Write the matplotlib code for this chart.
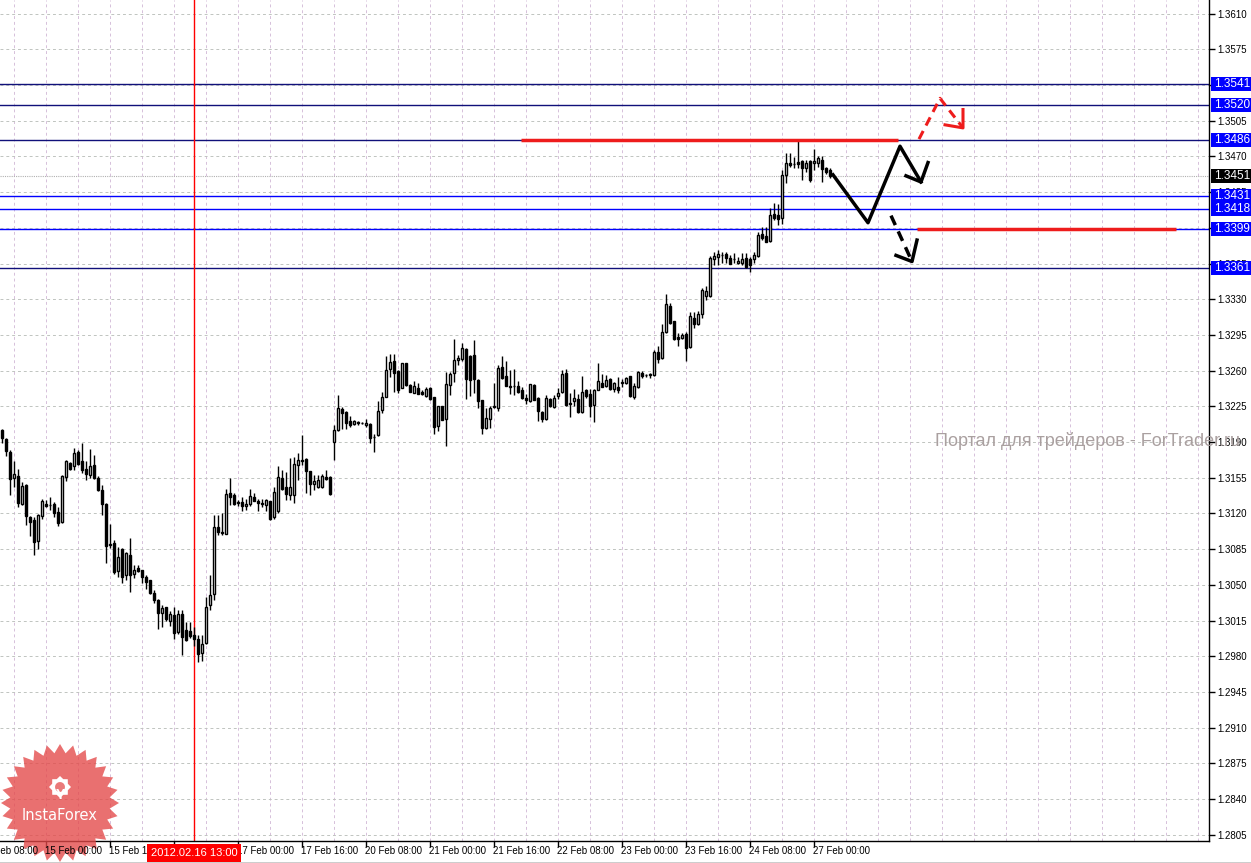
import numpy as np
import matplotlib.pyplot as plt
from matplotlib.patches import Polygon, Rectangle
from matplotlib import transforms

plt.rcParams['font.family'] = ['Liberation Sans', 'DejaVu Sans']

# H1 bars, EURUSD, starting 14 Feb 13:00
bar_open = [1.3202, 1.3193, 1.3180, 1.3155, 1.3157, 1.3129, 1.3148, 1.3116, 1.3114, 1.3093,
            1.3117, 1.3129, 1.3128, 1.3129, 1.3121, 1.3112, 1.3156, 1.3169, 1.3166, 1.3180,
            1.3171, 1.3164, 1.3158, 1.3167, 1.3155, 1.3143, 1.3129, 1.3089, 1.3091, 1.3064,
            1.3085, 1.3060, 1.3079, 1.3061, 1.3066, 1.3065, 1.3058, 1.3055, 1.3042, 1.3035,
            1.3022, 1.3028, 1.3015, 1.3020, 1.3004, 1.3021, 1.3006, 1.3005, 1.3001, 1.2997,
            1.2983, 1.2993, 1.3030, 1.3041, 1.3107, 1.3102, 1.3100, 1.3140, 1.3138, 1.3130,
            1.3131, 1.3127, 1.3129, 1.3136, 1.3132, 1.3130, 1.3128, 1.3132, 1.3116, 1.3122,
            1.3155, 1.3146, 1.3138, 1.3138, 1.3167, 1.3172, 1.3173, 1.3162, 1.3149, 1.3146,
            1.3146, 1.3156, 1.3156, 1.3190, 1.3202, 1.3222, 1.3219, 1.3211, 1.3208, 1.3210,
            1.3209, 1.3207, 1.3208, 1.3195, 1.3197, 1.3221, 1.3234, 1.3262, 1.3269, 1.3260,
            1.3243, 1.3267, 1.3246, 1.3238, 1.3243, 1.3239, 1.3235, 1.3243, 1.3234, 1.3206,
            1.3225, 1.3213, 1.3246, 1.3258, 1.3270, 1.3271, 1.3281, 1.3274, 1.3275, 1.3251,
            1.3231, 1.3204, 1.3213, 1.3224, 1.3223, 1.3264, 1.3255, 1.3245, 1.3245, 1.3245,
            1.3241, 1.3233, 1.3230, 1.3246, 1.3233, 1.3219, 1.3213, 1.3232, 1.3224, 1.3235,
            1.3239, 1.3258, 1.3228, 1.3230, 1.3232, 1.3219, 1.3241, 1.3237, 1.3226, 1.3241,
            1.3248, 1.3245, 1.3252, 1.3242, 1.3244, 1.3248, 1.3248, 1.3255, 1.3234, 1.3244,
            1.3258, 1.3256, 1.3256, 1.3256, 1.3278, 1.3272, 1.3298, 1.3323, 1.3309, 1.3293,
            1.3292, 1.3296, 1.3283, 1.3312, 1.3306, 1.3316, 1.3333, 1.3333, 1.3369, 1.3371,
            1.3373, 1.3374, 1.3370, 1.3369, 1.3366, 1.3366, 1.3370, 1.3369, 1.3369, 1.3372,
            1.3394, 1.3392, 1.3387, 1.3414, 1.3413, 1.3410, 1.3452, 1.3464, 1.3463, 1.3465,
            1.3466, 1.3459, 1.3466, 1.3464, 1.3464, 1.3467, 1.3459, 1.3457]
bar_high = [1.3203, 1.3194, 1.3182, 1.3171, 1.3164, 1.3151, 1.3149, 1.3117, 1.3116, 1.3119,
            1.3134, 1.3133, 1.3136, 1.3131, 1.3126, 1.3158, 1.3172, 1.3170, 1.3184, 1.3182,
            1.3189, 1.3171, 1.3183, 1.3177, 1.3157, 1.3148, 1.3130, 1.3110, 1.3094, 1.3087,
            1.3086, 1.3082, 1.3096, 1.3069, 1.3069, 1.3065, 1.3060, 1.3055, 1.3045, 1.3036,
            1.3030, 1.3028, 1.3024, 1.3028, 1.3025, 1.3025, 1.3014, 1.3014, 1.3009, 1.3001,
            1.3001, 1.3038, 1.3060, 1.3118, 1.3118, 1.3120, 1.3144, 1.3155, 1.3140, 1.3133,
            1.3136, 1.3134, 1.3144, 1.3140, 1.3134, 1.3134, 1.3134, 1.3132, 1.3146, 1.3166,
            1.3163, 1.3161, 1.3174, 1.3175, 1.3179, 1.3197, 1.3174, 1.3162, 1.3158, 1.3158,
            1.3159, 1.3163, 1.3157, 1.3207, 1.3236, 1.3224, 1.3220, 1.3216, 1.3212, 1.3211,
            1.3210, 1.3213, 1.3209, 1.3198, 1.3230, 1.3239, 1.3274, 1.3276, 1.3276, 1.3261,
            1.3267, 1.3267, 1.3247, 1.3250, 1.3248, 1.3241, 1.3244, 1.3244, 1.3234, 1.3225,
            1.3225, 1.3259, 1.3259, 1.3291, 1.3275, 1.3287, 1.3282, 1.3275, 1.3290, 1.3252,
            1.3231, 1.3223, 1.3225, 1.3248, 1.3266, 1.3274, 1.3269, 1.3261, 1.3262, 1.3250,
            1.3244, 1.3237, 1.3247, 1.3247, 1.3234, 1.3220, 1.3236, 1.3233, 1.3236, 1.3243,
            1.3261, 1.3262, 1.3238, 1.3242, 1.3237, 1.3255, 1.3242, 1.3242, 1.3242, 1.3267,
            1.3257, 1.3256, 1.3253, 1.3249, 1.3254, 1.3252, 1.3254, 1.3255, 1.3248, 1.3260,
            1.3260, 1.3257, 1.3258, 1.3280, 1.3284, 1.3306, 1.3335, 1.3326, 1.3309, 1.3297,
            1.3297, 1.3298, 1.3317, 1.3317, 1.3318, 1.3341, 1.3343, 1.3372, 1.3376, 1.3378,
            1.3376, 1.3376, 1.3373, 1.3375, 1.3371, 1.3375, 1.3375, 1.3371, 1.3376, 1.3396,
            1.3401, 1.3401, 1.3419, 1.3424, 1.3423, 1.3457, 1.3473, 1.3473, 1.3469, 1.3486,
            1.3467, 1.3467, 1.3467, 1.3477, 1.3470, 1.3470, 1.3460, 1.3459]
bar_low = [1.3189, 1.3176, 1.3138, 1.3146, 1.3126, 1.3128, 1.3109, 1.3098, 1.3079, 1.3085,
           1.3115, 1.3126, 1.3123, 1.3116, 1.3108, 1.3111, 1.3152, 1.3163, 1.3163, 1.3167,
           1.3160, 1.3153, 1.3155, 1.3154, 1.3142, 1.3118, 1.3071, 1.3086, 1.3061, 1.3058,
           1.3052, 1.3055, 1.3043, 1.3057, 1.3063, 1.3052, 1.3046, 1.3041, 1.3032, 1.3007,
           1.3009, 1.3015, 1.3010, 1.2997, 1.3002, 1.2981, 1.2995, 1.2998, 1.2990, 1.2974,
           1.2975, 1.2992, 1.3025, 1.3035, 1.3099, 1.3099, 1.3100, 1.3128, 1.3128, 1.3127,
           1.3122, 1.3123, 1.3127, 1.3132, 1.3122, 1.3126, 1.3122, 1.3114, 1.3115, 1.3120,
           1.3143, 1.3133, 1.3133, 1.3130, 1.3153, 1.3167, 1.3140, 1.3138, 1.3143, 1.3145,
           1.3145, 1.3153, 1.3138, 1.3172, 1.3201, 1.3203, 1.3203, 1.3205, 1.3207, 1.3207,
           1.3208, 1.3205, 1.3189, 1.3180, 1.3196, 1.3218, 1.3234, 1.3254, 1.3239, 1.3238,
           1.3243, 1.3245, 1.3239, 1.3238, 1.3237, 1.3236, 1.3234, 1.3231, 1.3198, 1.3201,
           1.3212, 1.3186, 1.3236, 1.3249, 1.3266, 1.3269, 1.3232, 1.3235, 1.3238, 1.3223,
           1.3198, 1.3203, 1.3204, 1.3223, 1.3220, 1.3252, 1.3245, 1.3237, 1.3236, 1.3238,
           1.3232, 1.3227, 1.3229, 1.3231, 1.3211, 1.3210, 1.3212, 1.3224, 1.3223, 1.3232,
           1.3238, 1.3225, 1.3215, 1.3225, 1.3218, 1.3218, 1.3233, 1.3215, 1.3210, 1.3241,
           1.3244, 1.3244, 1.3241, 1.3239, 1.3238, 1.3244, 1.3247, 1.3234, 1.3232, 1.3243,
           1.3253, 1.3254, 1.3253, 1.3255, 1.3267, 1.3271, 1.3297, 1.3306, 1.3290, 1.3284,
           1.3291, 1.3269, 1.3282, 1.3302, 1.3305, 1.3312, 1.3329, 1.3332, 1.3364, 1.3364,
           1.3366, 1.3366, 1.3365, 1.3366, 1.3365, 1.3364, 1.3361, 1.3357, 1.3366, 1.3371,
           1.3388, 1.3386, 1.3386, 1.3408, 1.3403, 1.3404, 1.3444, 1.3460, 1.3459, 1.3459,
           1.3447, 1.3455, 1.3445, 1.3457, 1.3460, 1.3445, 1.3453, 1.3449]
bar_close = [1.3194, 1.3181, 1.3154, 1.3159, 1.3130, 1.3147, 1.3117, 1.3112, 1.3092, 1.3118,
             1.3132, 1.3127, 1.3128, 1.3120, 1.3111, 1.3157, 1.3171, 1.3164, 1.3179, 1.3168,
             1.3163, 1.3159, 1.3166, 1.3155, 1.3143, 1.3129, 1.3088, 1.3090, 1.3063, 1.3077,
             1.3058, 1.3081, 1.3060, 1.3065, 1.3064, 1.3058, 1.3053, 1.3042, 1.3035, 1.3022,
             1.3027, 1.3016, 1.3021, 1.3003, 1.3021, 1.2999, 1.2996, 1.3000, 1.2997, 1.2982,
             1.2992, 1.3028, 1.3040, 1.3107, 1.3102, 1.3101, 1.3139, 1.3136, 1.3129, 1.3131,
             1.3127, 1.3129, 1.3137, 1.3132, 1.3130, 1.3129, 1.3133, 1.3115, 1.3141, 1.3156,
             1.3144, 1.3139, 1.3146, 1.3168, 1.3172, 1.3171, 1.3162, 1.3149, 1.3152, 1.3153,
             1.3157, 1.3154, 1.3139, 1.3202, 1.3223, 1.3218, 1.3209, 1.3207, 1.3211, 1.3209,
             1.3209, 1.3209, 1.3194, 1.3195, 1.3220, 1.3234, 1.3261, 1.3268, 1.3258, 1.3241,
             1.3267, 1.3246, 1.3239, 1.3245, 1.3237, 1.3237, 1.3242, 1.3232, 1.3205, 1.3225,
             1.3212, 1.3247, 1.3257, 1.3270, 1.3272, 1.3282, 1.3252, 1.3251, 1.3252, 1.3230,
             1.3204, 1.3214, 1.3223, 1.3225, 1.3263, 1.3253, 1.3245, 1.3244, 1.3245, 1.3239,
             1.3233, 1.3231, 1.3247, 1.3231, 1.3220, 1.3213, 1.3233, 1.3225, 1.3233, 1.3238,
             1.3257, 1.3226, 1.3227, 1.3233, 1.3219, 1.3239, 1.3235, 1.3225, 1.3241, 1.3250,
             1.3244, 1.3251, 1.3242, 1.3248, 1.3241, 1.3249, 1.3253, 1.3235, 1.3245, 1.3259,
             1.3255, 1.3256, 1.3257, 1.3278, 1.3271, 1.3298, 1.3325, 1.3307, 1.3291, 1.3291,
             1.3295, 1.3282, 1.3314, 1.3306, 1.3316, 1.3339, 1.3338, 1.3370, 1.3372, 1.3374,
             1.3373, 1.3370, 1.3365, 1.3369, 1.3367, 1.3369, 1.3362, 1.3364, 1.3373, 1.3393,
             1.3390, 1.3386, 1.3413, 1.3410, 1.3409, 1.3452, 1.3464, 1.3462, 1.3463, 1.3463,
             1.3459, 1.3464, 1.3447, 1.3466, 1.3468, 1.3458, 1.3455, 1.3451]

price_ticks = [1.2805, 1.2840, 1.2875, 1.2910, 1.2945, 1.2980, 1.3015, 1.3050, 1.3085, 1.3120,
               1.3155, 1.3190, 1.3225, 1.3260, 1.3295, 1.3330, 1.3365, 1.3400, 1.3435, 1.3470,
               1.3505, 1.3540, 1.3575, 1.3610]
time_labels = ['14 Feb 08:00', '15 Feb 00:00', '15 Feb 16:00', '16 Feb 08:00', '17 Feb 00:00',
               '17 Feb 16:00', '20 Feb 08:00', '21 Feb 00:00', '21 Feb 16:00', '22 Feb 08:00',
               '23 Feb 00:00', '23 Feb 16:00', '24 Feb 08:00', '27 Feb 00:00']
time_label_bars = [-5, 11, 27, 43, 59, 75, 91, 107, 123, 139, 155, 171, 187, 203]

levels_dark = [1.3541, 1.3520, 1.3486, 1.3361]
levels_blue = [1.3431, 1.3418, 1.3399]
last_price = 1.3451
marker_bar = 48
marker_label = '2012.02.16 13:00'

# hand-drawn forecast
resist_x, resist_y = [129.75, 224.0], [1.3486, 1.3486]
support_x, support_y = [228.75, 293.5], [1.3399, 1.3399]
zig_x, zig_y = [207.75, 216.5, 224.5, 229.75], [1.3452, 1.3405, 1.3480, 1.3445]
zig_head_x, zig_head_y = [226.0, 229.75, 231.5], [1.3451, 1.3445, 1.3464]
down_x, down_y = [222.25, 227.5], [1.3412, 1.3367]
down_head_x, down_head_y = [223.5, 227.5, 228.75], [1.3373, 1.3367, 1.3388]
up_x, up_y = [229.25, 234.5, 240.25], [1.3487, 1.3527, 1.3498]
up_head_x, up_head_y = [235.75, 240.25, 240.25], [1.3501, 1.3498, 1.3516]

W, H = 1251, 863
fig = plt.figure(figsize=(W / 100, H / 100), dpi=100)
ax = fig.add_axes([0, 22 / H, 1209 / W, 841 / H])
ax.set_xlim(-0.5, 301.75)
ax.set_ylim(1.27988, 1.36234)

# grid
for gx in np.arange(3, 302, 8):
    ax.axvline(gx, color='#d6c0da', ls=(0, (3, 3)), lw=0.7, zorder=1)
for gy in price_ticks:
    ax.axhline(gy, color='#c0c4c0', ls=(0, (3, 3)), lw=0.7, zorder=1)

# level lines
for lv in levels_dark:
    ax.axhline(lv, color='#10107a', lw=1, zorder=2)
for lv in levels_blue:
    ax.axhline(lv, color='#0000ff', lw=1, zorder=2)
ax.axhline(last_price, color='#b0b0b0', ls=(0, (1, 1)), lw=0.8, zorder=2)
ax.axvline(marker_bar, color='red', lw=1, zorder=2)

# candles
o = np.array(bar_open)
h = np.array(bar_high)
l = np.array(bar_low)
c = np.array(bar_close)
x = np.arange(len(o))
up = c >= o
ax.vlines(x, l, h, color='black', lw=1, zorder=3)
ax.bar(x[up], (c - o)[up], bottom=o[up], width=0.65, facecolor='white',
       edgecolor='black', lw=1, zorder=4)
ax.bar(x[~up], (o - c)[~up], bottom=c[~up], width=0.65, facecolor='black',
       edgecolor='black', lw=1, zorder=4)

# forecast drawing
ax.plot(resist_x, resist_y, color='#ee1c1c', lw=2.5, zorder=5, solid_capstyle='butt')
ax.plot(support_x, support_y, color='#ee1c1c', lw=2.5, zorder=5, solid_capstyle='butt')
ax.plot(zig_x, zig_y, color='black', lw=2.5, zorder=5)
ax.plot(zig_head_x, zig_head_y, color='black', lw=2.5, zorder=5)
ax.plot(down_x, down_y, color='black', lw=2.5, ls=(0, (3, 2)), zorder=5)
ax.plot(down_head_x, down_head_y, color='black', lw=2.5, zorder=5)
ax.plot(up_x, up_y, color='#ee1c1c', lw=2.2, ls=(0, (3, 2)), zorder=5)
ax.plot(up_head_x, up_head_y, color='#ee1c1c', lw=2.2, zorder=5)

# axes look
for s in ['top', 'left']:
    ax.spines[s].set_visible(False)
ax.spines['right'].set_linewidth(1)
ax.spines['bottom'].set_linewidth(1)
ax.yaxis.tick_right()
ax.set_yticks(price_ticks)
ax.set_yticklabels([f'{t:.4f}' for t in price_ticks])
ax.tick_params(axis='y', length=4, width=1, pad=2, labelsize=7, direction='out')
ax.set_xticks([b for b in time_label_bars if b >= 0])
ax.set_xticklabels([])
ax.tick_params(axis='x', length=4, width=1, direction='out')

# time labels
tr = transforms.blended_transform_factory(ax.transData, fig.transFigure)
for b, lab in zip(time_label_bars, time_labels):
    ax.text(b - 0.2, 1 - 851 / H, lab, transform=tr, ha='left', va='center',
            fontsize=7, clip_on=False, zorder=8)

# marker label on time axis
bx = (2 + 4 * marker_bar) / W
ax.add_patch(Rectangle((bx - 47 / W, 1 - 862 / H), 94 / W, 18 / H, transform=fig.transFigure,
                       facecolor='#ff0000', edgecolor='none', clip_on=False, zorder=9))
ax.text(bx, 1 - 853 / H, marker_label, transform=fig.transFigure, ha='center', va='center',
        fontsize=8, color='white', clip_on=False, zorder=10)

# price labels on right axis
def price_box(val, color):
    fy = ax.transData.transform((0, val))[1] / H
    ax.add_patch(Rectangle((1211 / W, fy - 7 / H), 40 / W, 14 / H, transform=fig.transFigure,
                           facecolor=color, edgecolor='none', clip_on=False, zorder=9))
    ax.text(1214 / W, fy, f'{val:.4f}', transform=fig.transFigure, ha='left', va='center',
            fontsize=8.5, color='white', clip_on=False, zorder=10)

for lv in levels_dark + levels_blue:
    price_box(lv, '#0000ff')
price_box(last_price, 'black')

fig.add_artist(plt.Line2D([0, 1], [0.5 / H, 0.5 / H], transform=fig.transFigure,
                          color='black', lw=1))

# watermark
fig.text(935 / W, 1 - 441 / H, 'Портал для трейдеров - ForTrader.ru', ha='left', va='center',
         fontsize=13, color='#aaa0a0', zorder=20)

# InstaForex logo
cx, cy, R, r, n = 60, 803, 59, 50, 28
ang = np.pi / 2 + np.pi * np.arange(2 * n) / n
rad = np.where(np.arange(2 * n) % 2 == 0, R, r)
star = np.column_stack([(cx + rad * np.cos(ang)) / W, 1 - (cy - rad * np.sin(ang)) / H])
ax.add_patch(Polygon(star, closed=True, transform=fig.transFigure, facecolor='#e44848',
                     edgecolor='none', alpha=0.78, clip_on=False, zorder=6))
gcx, gcy = 60, 787
ang2 = np.pi / 2 + np.pi * np.arange(16) / 8
rad2 = np.where(np.arange(16) % 2 == 0, 11, 8.5)
gear = np.column_stack([(gcx + rad2 * np.cos(ang2)) / W, 1 - (gcy - rad2 * np.sin(ang2)) / H])
ax.add_patch(Polygon(gear, closed=True, transform=fig.transFigure, facecolor='white',
                     edgecolor='none', clip_on=False, zorder=7))
inner = np.column_stack([(gcx + 5 * np.cos(ang2)) / W, 1 - (gcy - 5 * np.sin(ang2)) / H])
ax.add_patch(Polygon(inner, closed=True, transform=fig.transFigure, facecolor='#ea7a7a',
                     edgecolor='none', clip_on=False, zorder=7))
ax.text(gcx / W, 1 - 795 / H, 'Y', transform=fig.transFigure, ha='center', va='center',
        fontsize=10, fontweight='bold', color='white', clip_on=False, zorder=7)
ax.text(cx / W, 1 - 815 / H, 'InstaForex', transform=fig.transFigure, ha='center', va='center',
        fontsize=10.5, color='white', family='DejaVu Sans', clip_on=False, zorder=7)

fig.savefig('out.png', dpi=100, facecolor='white')
